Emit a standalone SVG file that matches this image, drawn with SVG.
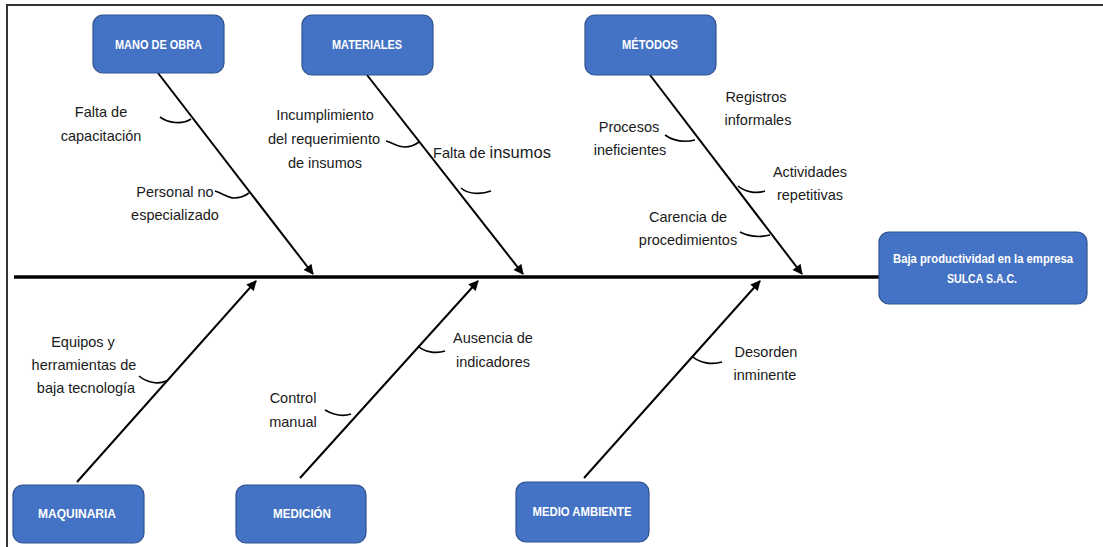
<svg xmlns="http://www.w3.org/2000/svg" width="1103" height="547" viewBox="0 0 1103 547">
<defs>
<style>
.box{fill:#4472C4;stroke:#2F528F;stroke-width:1.2}
.bt{font-family:"Liberation Sans",Arial,sans-serif;font-weight:bold;font-size:12.5px;fill:#ffffff;text-anchor:middle}
.lb{font-family:"Liberation Sans",Arial,sans-serif;font-size:14.5px;fill:#1a1a1a;text-anchor:middle}
.br{stroke:#000;stroke-width:2;fill:none}
.tk{stroke:#000;stroke-width:1.6;fill:none}
</style>
<marker id="ah" viewBox="0 0 10 10" refX="9" refY="5" markerWidth="5.5" markerHeight="5" orient="auto" markerUnits="strokeWidth">
<path d="M0,0 L10,5 L0,10 Z" fill="#000"/>
</marker>
</defs>
<rect x="0" y="0" width="1103" height="547" fill="#ffffff"/>
<g id="frame">
<line x1="6" y1="5" x2="1103" y2="5" stroke="#333" stroke-width="2"/>
<line x1="7" y1="4" x2="7" y2="547" stroke="#333" stroke-width="2"/>
</g>
<g id="connectors">
<line x1="14" y1="277" x2="879" y2="277" stroke="#000" stroke-width="3.5"/>
<line class="br" x1="158" y1="73" x2="313" y2="274" marker-end="url(#ah)"/>
<line class="br" x1="367" y1="75" x2="523" y2="274" marker-end="url(#ah)"/>
<line class="br" x1="650" y1="75" x2="802" y2="274" marker-end="url(#ah)"/>
<line class="br" x1="77" y1="482" x2="256" y2="281" marker-end="url(#ah)"/>
<line class="br" x1="300" y1="478" x2="478" y2="281" marker-end="url(#ah)"/>
<line class="br" x1="584" y1="478" x2="760" y2="281" marker-end="url(#ah)"/>
<path class="tk" d="M160,117 C168,123 182,125 191,119"/>
<path class="tk" d="M215,191 C222,193 228,198 234,198 C240,198 245,196 249,193"/>
<path class="tk" d="M386,141 C393,143 398,147 405,147 C411,147 415,145 419,142"/>
<path class="tk" d="M461,188 C468,194 480,195 491,191"/>
<path class="tk" d="M665,135 C672,140 682,143 695,140"/>
<path class="tk" d="M738,186 C745,192 756,194 765,191"/>
<path class="tk" d="M740,232 C748,236 758,238 770,235"/>
<path class="tk" d="M139,376 C146,382 158,385 166,381"/>
<path class="tk" d="M325,410 C332,414 342,417 351,414"/>
<path class="tk" d="M418,346 C424,352 436,354 445,351"/>
<path class="tk" d="M693,357 C700,363 712,365 722,362"/>
</g>
<g id="mano-de-obra">
<rect class="box" x="93" y="15" width="131" height="58" rx="10"/>
<text class="bt" x="158.5" y="49" textLength="87" lengthAdjust="spacingAndGlyphs">MANO DE OBRA</text>
</g>
<g id="materiales">
<rect class="box" x="302" y="15" width="131" height="60" rx="10"/>
<text class="bt" x="367" y="49" textLength="70" lengthAdjust="spacingAndGlyphs">MATERIALES</text>
</g>
<g id="metodos">
<rect class="box" x="585" y="15" width="131" height="60" rx="10"/>
<text class="bt" x="650" y="49" textLength="56" lengthAdjust="spacingAndGlyphs">MÉTODOS</text>
</g>
<g id="efecto">
<rect class="box" x="879" y="232" width="208" height="72" rx="10"/>
<text class="bt" x="983" y="263" textLength="180" lengthAdjust="spacingAndGlyphs">Baja productividad en la empresa</text>
<text class="bt" x="982" y="283" textLength="70" lengthAdjust="spacingAndGlyphs">SULCA S.A.C.</text>
</g>
<g id="maquinaria">
<rect class="box" x="13" y="485" width="131" height="58" rx="10"/>
<text class="bt" x="77" y="518" textLength="78" lengthAdjust="spacingAndGlyphs">MAQUINARIA</text>
</g>
<g id="medicion">
<rect class="box" x="236" y="485" width="130" height="58" rx="10"/>
<text class="bt" x="302" y="518" textLength="58" lengthAdjust="spacingAndGlyphs">MEDICIÓN</text>
</g>
<g id="medio-ambiente">
<rect class="box" x="516" y="482" width="133" height="60" rx="10"/>
<text class="bt" x="582" y="516" textLength="99" lengthAdjust="spacingAndGlyphs">MEDIO AMBIENTE</text>
</g>
<g id="labels">
<text class="lb" x="101" y="117">Falta de</text>
<text class="lb" x="101" y="141">capacitación</text>
<text class="lb" x="175" y="197">Personal no</text>
<text class="lb" x="175" y="220">especializado</text>
<text class="lb" x="325" y="120">Incumplimiento</text>
<text class="lb" x="324" y="144">del requerimiento</text>
<text class="lb" x="325" y="168">de insumos</text>
<text class="lb" x="492" y="158">Falta de <tspan font-size="16.5px">insumos</tspan></text>
<text class="lb" x="756" y="102">Registros</text>
<text class="lb" x="758" y="125">informales</text>
<text class="lb" x="629" y="132">Procesos</text>
<text class="lb" x="630" y="155">ineficientes</text>
<text class="lb" x="810" y="177">Actividades</text>
<text class="lb" x="810" y="200">repetitivas</text>
<text class="lb" x="688" y="222">Carencia de</text>
<text class="lb" x="688" y="245">procedimientos</text>
<text class="lb" x="83" y="347">Equipos y</text>
<text class="lb" x="84" y="370">herramientas de</text>
<text class="lb" x="86" y="393">baja tecnología</text>
<text class="lb" x="293" y="403">Control</text>
<text class="lb" x="293" y="427">manual</text>
<text class="lb" x="493" y="343">Ausencia de</text>
<text class="lb" x="493" y="367">indicadores</text>
<text class="lb" x="766" y="357">Desorden</text>
<text class="lb" x="765" y="380">inminente</text>
</g>
</svg>
